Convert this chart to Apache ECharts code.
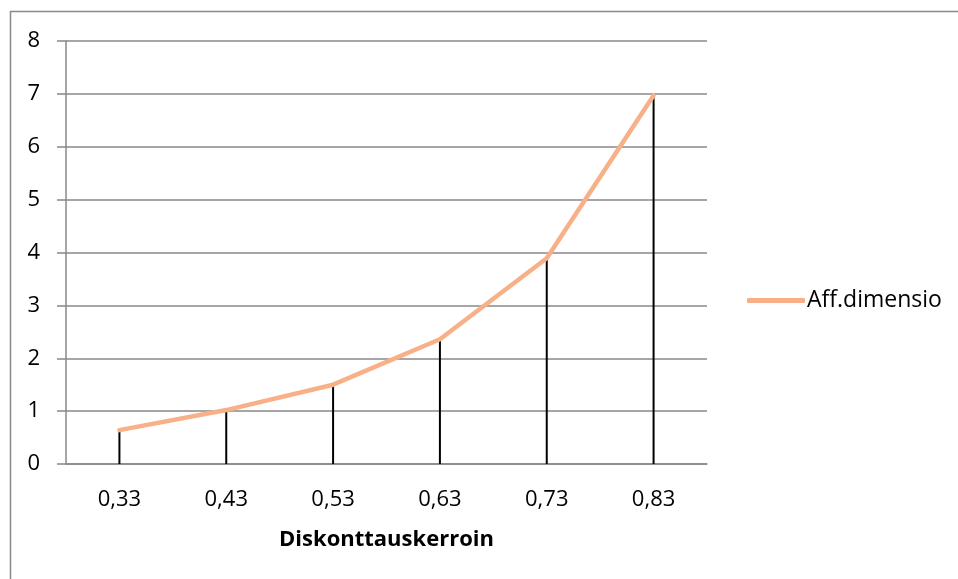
<!DOCTYPE html>
<html>
<head>
<meta charset="utf-8">
<script src="https://cdn.jsdelivr.net/npm/echarts@6/dist/echarts.min.js"></script>
<style>
  html, body { margin: 0; padding: 0; background: #fff; }
  #chart { width: 958px; height: 579px; }
</style>
</head>
<body>
<div id="chart"></div>
<script>
// Discount factor categories and the affine dimension at each
const categories = ['0,33', '0,43', '0,53', '0,63', '0,73', '0,83'];
const affDimensio = [0.64, 1.02, 1.5, 2.36, 3.89, 6.97];
const yTicks = { min: 0, max: 8, interval: 1 };

const FONT = '"Open Sans", "Noto Sans", sans-serif';
const FONT_SIZE = 22;
const GRID_GREY = '#888888';
const LINE_COLOR = '#F8B088';

const chart = echarts.init(document.getElementById('chart'), null, { renderer: 'canvas' });

chart.setOption({
  backgroundColor: '#ffffff',
  animation: false,
  graphic: [{
    type: 'rect',
    shape: { x: 10.5, y: 11.5, width: 1200, height: 1200 },
    style: { fill: 'none', stroke: GRID_GREY, lineWidth: 1.5 },
    silent: true
  }],
  grid: { left: 66, right: 251, top: 41, bottom: 115 },
  legend: {
    data: ['Aff.dimensio'],
    left: 742,
    top: 284,
    icon: 'roundRect',
    itemWidth: 58,
    itemHeight: 5,
    itemGap: 4,
    itemStyle: { color: LINE_COLOR },
    textStyle: { fontFamily: FONT, fontSize: 23, color: '#000', padding: [0, 0, 0, -3] }
  },
  xAxis: {
    type: 'category',
    data: categories,
    boundaryGap: true,
    name: 'Diskonttauskerroin',
    nameLocation: 'middle',
    nameGap: 65,
    nameTextStyle: { fontFamily: FONT, fontSize: FONT_SIZE, fontWeight: 'bold', color: '#000' },
    axisLine: { lineStyle: { color: GRID_GREY, width: 1.5 } },
    axisTick: { show: false },
    axisLabel: { fontFamily: FONT, fontSize: FONT_SIZE, color: '#000', margin: 25 }
  },
  yAxis: {
    type: 'value',
    min: yTicks.min,
    max: yTicks.max,
    interval: yTicks.interval,
    axisLine: { show: true, lineStyle: { color: GRID_GREY, width: 1.5 } },
    axisTick: { show: true, length: 9, lineStyle: { color: GRID_GREY, width: 1.5 } },
    axisLabel: { fontFamily: FONT, fontSize: FONT_SIZE, color: '#000', margin: 26 },
    splitLine: { lineStyle: { color: GRID_GREY, width: 1.5 } }
  },
  series: [
    {
      // vertical drop lines from each point to the axis
      name: 'drop',
      type: 'bar',
      data: affDimensio,
      barWidth: 2,
      itemStyle: { color: '#000000' },
      silent: true,
      z: 2
    },
    {
      name: 'Aff.dimensio',
      type: 'line',
      data: affDimensio,
      symbol: 'none',
      lineStyle: { color: LINE_COLOR, width: 4.5, cap: 'round', join: 'round' },
      itemStyle: { color: LINE_COLOR },
      z: 3
    }
  ]
});
</script>
</body>
</html>
